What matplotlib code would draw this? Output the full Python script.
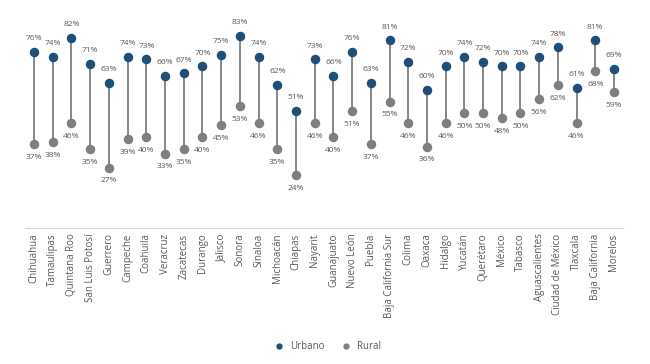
import matplotlib.pyplot as plt
import numpy as np

plt.rcParams['font.family'] = ['Open Sans', 'DejaVu Sans']

states = ['Chihuahua', 'Tamaulipas', 'Quintana Roo', 'San Luis Potosí', 'Guerrero',
          'Campeche', 'Coahuila', 'Veracruz', 'Zacatecas', 'Durango', 'Jalisco',
          'Sonora', 'Sinaloa', 'Michoacán', 'Chiapas', 'Nayarit', 'Guanajuato',
          'Nuevo León', 'Puebla', 'Baja California Sur', 'Colima', 'Oaxaca',
          'Hidalgo', 'Yucatán', 'Querétaro', 'México', 'Tabasco', 'Aguascalientes',
          'Ciudad de México', 'Tlaxcala', 'Baja California', 'Morelos']
urbano = [76, 74, 82, 71, 63, 74, 73, 66, 67, 70, 75, 83, 74, 62, 51, 73, 66,
          76, 63, 81, 72, 60, 70, 74, 72, 70, 70, 74, 78, 61, 81, 69]
rural = [37, 38, 46, 35, 27, 39, 40, 33, 35, 40, 45, 53, 46, 35, 24, 46, 40,
         51, 37, 55, 46, 36, 46, 50, 50, 48, 50, 56, 62, 46, 68, 59]

blue = '#1f4e79'
grey = '#7f7f7f'
txt = '#595959'

fig = plt.figure(figsize=(6.5, 3.64), dpi=100)
ax = fig.add_axes([0.038, 0.374, 0.921, 0.585])
x = np.arange(len(states))

ax.vlines(x, rural, urbano, color='#727272', lw=1.2, zorder=1)
ax.scatter(x, urbano, s=34, color=blue, zorder=3, label='Urbano')
ax.scatter(x, rural, s=34, color=grey, zorder=3, label='Rural')

for i in range(len(states)):
    ax.annotate(f'{urbano[i]}%', (x[i], urbano[i]), xytext=(0, 7),
                textcoords='offset points', ha='center', va='bottom',
                fontsize=6, color=txt)
    ax.annotate(f'{rural[i]}%', (x[i], rural[i]), xytext=(0, -7),
                textcoords='offset points', ha='center', va='top',
                fontsize=6, color=txt)

ax.set_xlim(-0.5, len(states) - 0.5)
ax.set_ylim(1.5, 91.8)
ax.set_xticks(x)
ax.set_xticklabels(states, rotation=90, fontsize=7, color=txt)
ax.tick_params(axis='x', length=0, pad=4)
ax.set_yticks([])
for s in ['top', 'right', 'left']:
    ax.spines[s].set_visible(False)
ax.spines['bottom'].set_color('#d9d9d9')

fig.legend(loc='lower center', bbox_to_anchor=(0.5, 0.01), ncol=2, frameon=False,
           fontsize=7, labelcolor=txt, handletextpad=0.1, columnspacing=1.2,
           markerscale=0.6)

fig.savefig('out.png', dpi=100)
